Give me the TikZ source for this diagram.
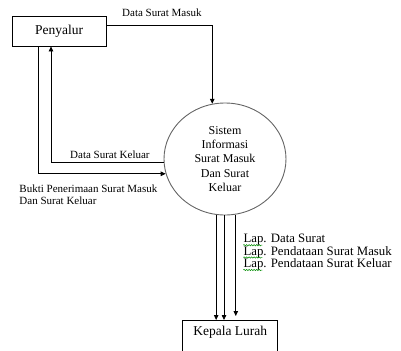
\documentclass[tikz,border=0pt]{standalone}
\usepackage{fontspec}
\setmainfont{Liberation Serif}
\usetikzlibrary{arrows.meta,shapes.geometric,decorations.pathmorphing}
\begin{document}
\begin{tikzpicture}[x=1bp,y=-1bp,
  ent/.style={draw, line width=0.8bp, inner sep=0pt, font=\fontsize{13.5bp}{15bp}\selectfont},
  entlbl/.style={inner sep=0pt, font=\fontsize{13.5bp}{15bp}\selectfont},
  proc/.style={ellipse, draw=black!60, line width=0.9bp, minimum width=122bp, minimum height=112bp, inner sep=0pt, align=center, font=\fontsize{12bp}{14.2bp}\selectfont},
  flow/.style={line width=0.8bp, -{Triangle[length=5bp,width=4.5bp]}},
  lbl/.style={inner sep=0pt, anchor=base west, font=\fontsize{11bp}{12.3bp}\selectfont},
  lap/.style={inner sep=0pt, anchor=base west, font=\fontsize{12.8bp}{14bp}\selectfont},
  spell/.style={draw=green!55!black, line width=0.5bp, decorate, decoration={snake, amplitude=0.7bp, segment length=2.5bp}}
]
\useasboundingbox (0,0) rectangle (401,351);

\node[ent, minimum width=94bp, minimum height=30bp] (pen) at (59,31) {Penyalur};
\node[proc] (sis) at (225,159) {Sistem\\Informasi\\Surat Masuk\\Dan Surat\\Keluar};
\node[ent, anchor=north, minimum width=95bp, minimum height=46bp] (kl) at (230.2,320) {};
\node[entlbl, anchor=base] (klt) at (230.2,335) {Kepala Lurah};

\draw[flow] ([yshift=6bp]pen.east) -| (sis.103.4);
\draw[flow] ([xshift=-21bp]pen.south) |- (sis.194.3);
\draw[flow] (sis.183.8) -| ([xshift=-8bp]pen.south);

\coordinate (e1) at (sis.261.8 |- kl.north);
\coordinate (e2) at (sis.269.3 |- kl.north);
\coordinate (e3) at (sis.281 |- kl.north);
\draw[flow] (sis.261.8) -- (e1);
\draw[flow] (sis.269.3) -- (e2);
\draw[flow] (sis.281) -- ([yshift=4bp]e3);

\node[lbl] (l1) at (122,16.5) {Data Surat Masuk};
\node[lbl] (l2) at (70,158.3) {Data Surat Keluar};
\node[lbl] (l3a) at (19.3,192.7) {Bukti Penerimaan Surat Masuk};
\node[lbl] (l3b) at (19.3,204.6) {Dan Surat Keluar};

\node[lap] (lap1) at (243.3,242.7) {Lap. Data Surat};
\node[lap] (lap2) at (243.3,255) {Lap. Pendataan Surat Masuk};
\node[lap] (lap3) at (243.3,267.5) {Lap. Pendataan Surat Keluar};
\draw[spell] ([yshift=-2.5bp]lap1.base west) -- ++(19,0);
\draw[spell] ([yshift=-2.5bp]lap2.base west) -- ++(19,0);
\draw[spell] ([yshift=-2.5bp]lap3.base west) -- ++(19,0);
\end{tikzpicture}
\end{document}
